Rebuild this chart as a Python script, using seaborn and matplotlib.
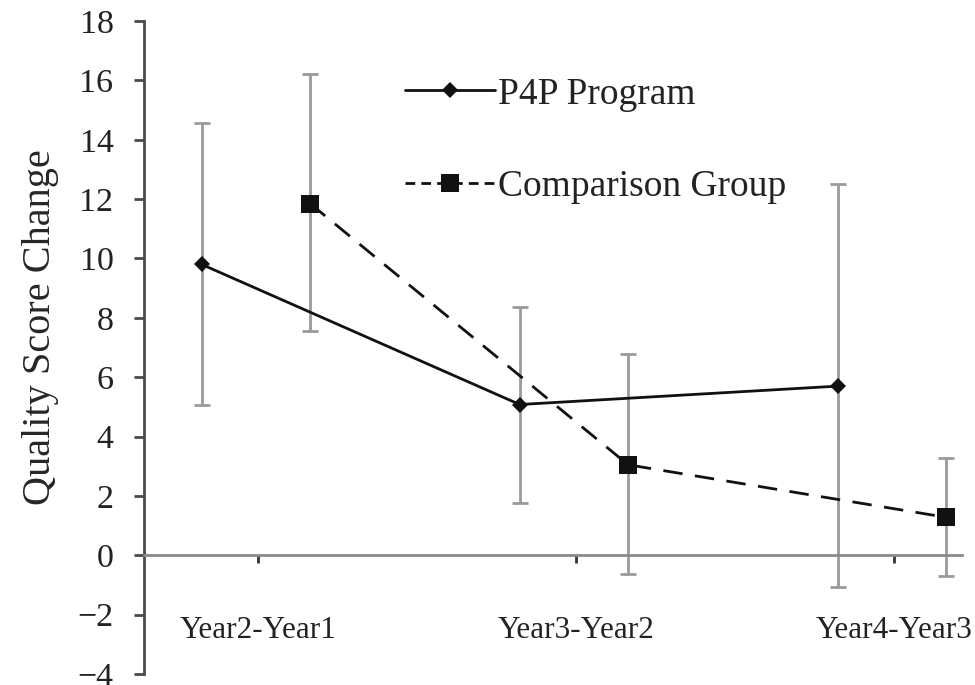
import numpy as np
import pandas as pd
import matplotlib
matplotlib.use("Agg")
import matplotlib.pyplot as plt
import seaborn as sns
from matplotlib.lines import Line2D

# Data
periods = ["Year2-Year1", "Year3-Year2", "Year4-Year3"]
p4p_mean = [9.8, 5.08, 5.7]
p4p_upper = [14.55, 8.35, 12.52]
p4p_lower = [5.08, 1.75, -1.08]
comp_mean = [11.85, 3.05, 1.28]
comp_upper = [16.2, 6.77, 3.27]
comp_lower = [7.57, -0.64, -0.71]
groups = ["P4P Program", "Comparison Group"]

sns.set_theme(style="white")
plt.rcParams["font.family"] = ["Liberation Serif", "DejaVu Serif"]

# the two groups are drawn side by side within each period
dodge = {"P4P Program": -0.177, "Comparison Group": 0.164}
rows = []
for g, mean, lo, hi in [("P4P Program", p4p_mean, p4p_lower, p4p_upper),
                        ("Comparison Group", comp_mean, comp_lower, comp_upper)]:
    for i, (m, l, h) in enumerate(zip(mean, lo, hi)):
        rows.append({"group": g, "period": periods[i], "pos": i + dodge[g],
                     "value": m, "lower": l, "upper": h})
df = pd.DataFrame(rows)

fig = plt.figure(figsize=(9.75, 6.85), dpi=100)
ax = fig.add_axes([0.1477, 0.016, 0.839, 0.9533])

# Confidence intervals
for g in groups:
    sub = df[df.group == g]
    ax.errorbar(sub["pos"], sub["value"],
                yerr=[sub["value"] - sub["lower"], sub["upper"] - sub["value"]],
                fmt="none", ecolor="#9a9a9a", elinewidth=2, capsize=6,
                capthick=2, zorder=2)

sns.lineplot(data=df, x="pos", y="value", hue="group", style="group",
             hue_order=groups, style_order=groups,
             palette={"P4P Program": "#111111", "Comparison Group": "#111111"},
             markers={"P4P Program": "D", "Comparison Group": "s"},
             dashes={"P4P Program": "", "Comparison Group": (7, 4.5)},
             markersize=9, linewidth=2, markeredgewidth=0, ax=ax,
             legend=False, zorder=3, sort=False)
for line in ax.get_lines():
    if line.get_marker() == "D":
        line.set_markersize(8)
    elif line.get_marker() == "s":
        line.set_markersize(12.5)

ax.set_xlim(-0.3585, 2.214)
ax.set_ylim(-4, 18)
ax.set_yticks(np.arange(-4, 19, 2))
ax.set_yticklabels([str(v).replace("-", "\u2212") for v in range(-4, 19, 2)])
ax.set_xticks(range(len(periods)))
ax.set_xticklabels(periods)
ax.set_xlabel("")
ax.set_ylabel("Quality Score Change", fontsize=29)
ax.yaxis.set_label_coords(-0.104, 0.531)

for s in ["top", "right"]:
    ax.spines[s].set_visible(False)
ax.spines["left"].set_color("#4a4a4a")
ax.spines["left"].set_linewidth(2)
ax.spines["bottom"].set_position(("data", 0))
ax.spines["bottom"].set_color("#8a8a8a")
ax.spines["bottom"].set_linewidth(2)

ax.tick_params(axis="y", direction="out", length=7, width=2, color="#4a4a4a",
               labelsize=24.5, pad=15, left=True)
ax.tick_params(axis="x", direction="out", length=6, width=2, color="#333333",
               labelsize=22.5, pad=38, bottom=True)
for t in ax.get_yticklabels() + ax.get_xticklabels():
    t.set_color("#222222")

handles = [
    Line2D([], [], color="#111111", lw=2, marker="D", markersize=8,
           markeredgewidth=0),
    Line2D([], [], color="#111111", lw=2, ls=(0, (3.5, 2.2)), marker="s",
           markersize=12.5, markeredgewidth=0),
]
fig.legend(handles, groups, loc="upper left",
           bbox_to_anchor=(405 / 975, 1 - 77 / 685),
           bbox_transform=fig.transFigure, borderpad=0, borderaxespad=0,
           frameon=False, fontsize=27, handlelength=2.4, handletextpad=0.08,
           labelspacing=1.54, labelcolor="#222222")

fig.savefig("out.png", dpi=100)
